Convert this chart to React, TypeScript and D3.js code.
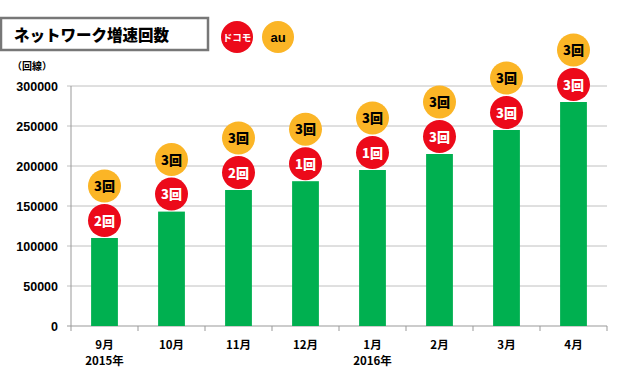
import React from "react";
import * as d3 from "d3";

const months = ["9月", "10月", "11月", "12月", "1月", "2月", "3月", "4月"];
const years = ["2015年", "", "", "", "2016年", "", "", ""];
const lines = [110000, 143000, 170000, 181000, 195000, 215000, 245000, 280000];
const docomoCounts = [2, 3, 2, 1, 1, 3, 3, 3];
const auCounts = [3, 3, 3, 3, 3, 3, 3, 3];
const yTicks = [0, 50000, 100000, 150000, 200000, 250000, 300000];

const W = 620, H = 377;
const left = 71, right = 607, top = 86, bottom = 326;
const RED = "#EC0A1A", GOLD = "#FBB526", GREEN = "#00B050";
const JP = "'Noto Sans CJK JP', sans-serif";
const LAT = "'Liberation Sans', Arial, sans-serif";

export default function App() {
  const x = d3.scaleBand<string>().domain(months).range([left, right]).paddingInner(0.6).paddingOuter(0.3);
  const xb = d3.scaleBand<string>().domain(months).range([left, right]);
  const y = d3.scaleLinear().domain([0, 300000]).range([bottom, top]);
  const r = 16.5;
  return (
    <svg width={W} height={H} style={{ position: "absolute", left: 0, top: 0 }}>
      <rect width={W} height={H} fill="#fff" />
      {/* title */}
      <rect x={1} y={18} width={207} height={32} fill="#fff" stroke="#777" strokeWidth={2.5} />
      <text x={14} y={41} fontFamily={JP} fontWeight={900} fontSize={15.5} fill="#000">ネットワーク増速回数</text>
      {/* legend */}
      <circle cx={237} cy={37} r={16} fill={RED} />
      <text x={237} y={41} textAnchor="middle" fontFamily={JP} fontWeight={700} fontSize={9.5} fill="#fff">ドコモ</text>
      <circle cx={278} cy={37} r={16} fill={GOLD} />
      <text x={278} y={42} textAnchor="middle" fontFamily={LAT} fontWeight={700} fontSize={13} fill="#000">au</text>
      <text x={12} y={70} fontFamily={JP} fontWeight={700} fontSize={10} fill="#000">（回線）</text>
      {/* grid */}
      {yTicks.map((t) => (
        <g key={t}>
          <line x1={left - 4} x2={right} y1={y(t)} y2={y(t)} stroke={t === 0 ? "#999" : "#c0c0c0"} strokeWidth={1} />
          <text x={58} y={y(t) + 4.5} textAnchor="end" fontFamily={LAT} fontWeight={700} fontSize={12.5} fill="#000">{t}</text>
        </g>
      ))}
      <line x1={left} x2={left} y1={top} y2={bottom} stroke="#999" />
      {months.map((m) => (
        <line key={m} x1={xb(m)!} x2={xb(m)!} y1={bottom} y2={bottom + 5} stroke="#999" />
      ))}
      <line x1={right} x2={right} y1={bottom} y2={bottom + 5} stroke="#999" />
      {/* bars */}
      {months.map((m, i) => {
        const cx = x(m)! + x.bandwidth() / 2;
        const by = y(lines[i]);
        const redY = by - 17.5;
        const goldY = redY - 34.5;
        return (
          <g key={m}>
            <rect x={x(m)!} y={by} width={x.bandwidth()} height={bottom - by} fill={GREEN} />
            <circle cx={cx} cy={goldY} r={r} fill={GOLD} />
            <text x={cx} y={goldY + 5} textAnchor="middle" fontFamily={JP} fontWeight={900} fontSize={13} fill="#000">{auCounts[i]}回</text>
            <circle cx={cx} cy={redY} r={r} fill={RED} />
            <text x={cx} y={redY + 5} textAnchor="middle" fontFamily={JP} fontWeight={900} fontSize={13} fill="#fff">{docomoCounts[i]}回</text>
            <text x={cx} y={349} textAnchor="middle" fontFamily={JP} fontWeight={700} fontSize={11.5} fill="#000">{m}</text>
            {years[i] && (
              <text x={cx} y={365} textAnchor="middle" fontFamily={JP} fontWeight={700} fontSize={11.5} fill="#000">{years[i]}</text>
            )}
          </g>
        );
      })}
    </svg>
  );
}
